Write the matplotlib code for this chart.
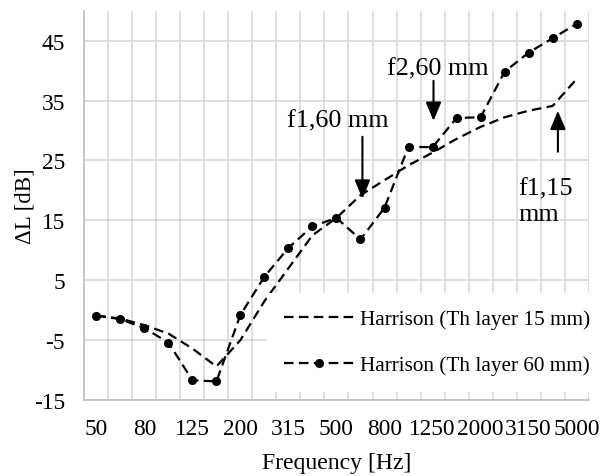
import matplotlib
matplotlib.use("Agg")
import matplotlib.pyplot as plt

plt.rcParams['font.family'] = ['Liberation Serif', 'DejaVu Serif']
plt.rcParams['font.size'] = 16.8
plt.rcParams['axes.unicode_minus'] = False

# Third-octave band centre frequencies (category axis)
freqs = ['50', '63', '80', '100', '125', '160', '200', '250', '315', '400', '500',
         '630', '800', '1000', '1250', '1600', '2000', '2500', '3150', '4000', '5000']

# Delta L [dB]
th15 = [-0.9, -1.4, -2.5, -3.9, -6.4, -9.4, -5.0, 1.5, 7.0, 12.5, 15.4,
        19.2, 21.7, 24.2, 26.3, 28.6, 30.6, 32.2, 33.3, 34.1, 38.6]
th60 = [-0.9, -1.5, -3.0, -5.4, -11.7, -11.9, -0.8, 5.6, 10.4, 14.0, 15.4,
        11.8, 17.1, 27.3, 27.2, 32.1, 32.2, 39.8, 43.0, 45.4, 47.8]

yticks = [-15, -5, 5, 15, 25, 35, 45]

fig = plt.figure(figsize=(6.1, 4.77), dpi=100)
ax = fig.add_axes([0.1382, 0.1593, 0.965 - 0.1382, 0.9755 - 0.1593])

x = list(range(len(freqs)))
dash = (4.3, 2.4)
l15, = ax.plot(x, th15, color='black', lw=1.6, linestyle=(0, dash),
               label='Harrison (Th layer 15 mm)', zorder=3)
l60, = ax.plot(x, th60, color='black', lw=1.6, linestyle=(0, dash),
               marker='o', markersize=5.5, label='Harrison (Th layer 60 mm)', zorder=3)

ax.set_xlim(-0.5, len(freqs) - 0.5)
ax.set_ylim(-15, 50)
ax.set_xticks(x[::2])
ax.set_xticklabels(freqs[::2])
ax.set_xticks([i - 0.5 for i in range(len(freqs) + 1)], minor=True)
ax.set_yticks(yticks)

ax.grid(which='minor', axis='x', color='#d9d9d9', lw=1.2)
ax.grid(which='major', axis='y', color='#d9d9d9', lw=1.2)
ax.grid(which='major', axis='x', visible=False)
ax.set_axisbelow(True)

ax.tick_params(which='both', length=0)
ax.tick_params(axis='x', pad=13)
ax.tick_params(axis='y', pad=14)

for s in ['top', 'right']:
    ax.spines[s].set_visible(False)
for s in ['left', 'bottom']:
    ax.spines[s].set_color('#bfbfbf')
    ax.spines[s].set_linewidth(1.2)

ax.set_xlabel('Frequency [Hz]', fontsize=17.1, labelpad=9)
ax.set_ylabel('ΔL [dB]', fontsize=16.5, labelpad=-1)

# annotations
ann = 18.8
arrow = dict(arrowstyle='-|>,head_length=0.6,head_width=0.25', color='black', lw=1.5,
             shrinkA=0, shrinkB=0)
ax.text(10.07, 31.6, 'f1,60 mm', ha='center', va='center', fontsize=ann)
ax.annotate('', xy=(11.08, 18.6), xytext=(11.08, 28.95), arrowprops=arrow, fontsize=ann)
ax.text(14.24, 40.3, 'f2,60 mm', ha='center', va='center', fontsize=ann)
ax.annotate('', xy=(14.04, 31.6), xytext=(14.04, 38.3), arrowprops=arrow, fontsize=ann)
ax.text(17.57, 18.2, 'f1,15\nmm', ha='left', va='center', linespacing=1.25, fontsize=ann)
ax.annotate('', xy=(19.22, 33.3), xytext=(19.22, 26.45), arrowprops=arrow, fontsize=ann)

leg = ax.legend(handles=[l15, l60], loc='center left',
                bbox_to_anchor=(267 / 610, (477 - 343.5) / 477),
                bbox_transform=fig.transFigure, borderaxespad=0, fontsize=15.3,
                frameon=True, fancybox=False, framealpha=1, facecolor='white',
                edgecolor='none', handlelength=3.3, handletextpad=0.3,
                labelspacing=1.23, borderpad=0.8)
leg.set_zorder(5)

fig.savefig('out.png', dpi=100)
